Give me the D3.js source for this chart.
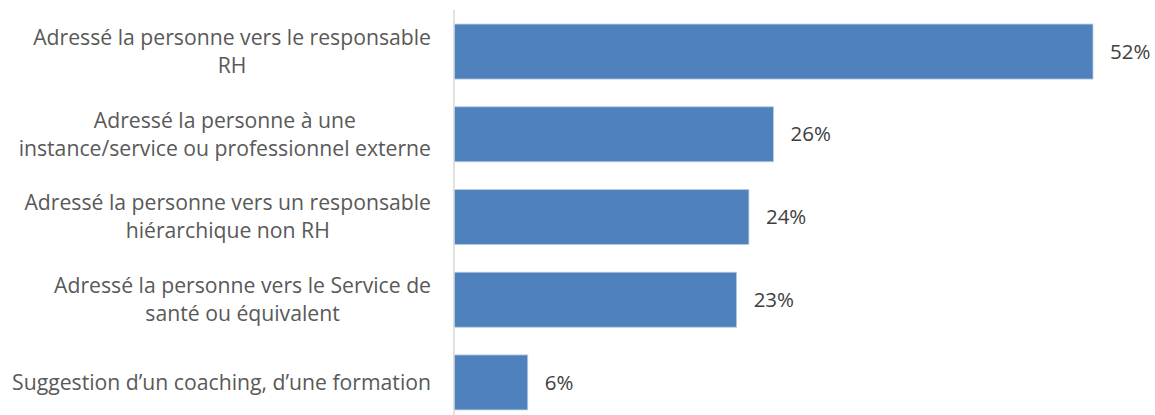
<!DOCTYPE html>
<html>
<head>
<meta charset="utf-8">
<script src="https://cdn.jsdelivr.net/npm/d3@7"></script>
<style>
  body { margin: 0; background: #fff; }
  svg { display: block; font-family: "Open Sans", sans-serif; }
</style>
</head>
<body>
<div id="chart"></div>
<script>
// Chart data
const categories = [
  ['Adressé la personne vers le responsable', 'RH'],
  ['Adressé la personne à une', 'instance/service ou professionnel externe'],
  ['Adressé la personne vers un responsable', 'hiérarchique non RH'],
  ['Adressé la personne vers le Service de', 'santé ou équivalent'],
  ['Suggestion d\u2019un coaching, d\u2019une formation']
];
const values = [52, 26, 24, 23, 6];

const width = 1155;
const height = 415;

const svg = d3
  .select('#chart')
  .append('svg')
  .attr('width', width)
  .attr('height', height);

// Scales
const x = d3.scaleLinear().domain([0, 52]).range([454, 1093]);
const y = d3
  .scaleBand()
  .domain(d3.range(values.length))
  .range([10, 424])
  .paddingInner(0.335)
  .paddingOuter(0.17);

// Bars
svg
  .selectAll('rect.bar')
  .data(values)
  .join('rect')
  .attr('class', 'bar')
  .attr('x', x(0))
  .attr('y', (d, i) => y(i))
  .attr('width', (d) => x(d) - x(0))
  .attr('height', y.bandwidth())
  .style('fill', '#4f81bd')
  .style('stroke', '#b9cde5')
  .style('stroke-width', 0.8);

// Axis line
svg
  .append('line')
  .attr('x1', x(0))
  .attr('x2', x(0))
  .attr('y1', 10)
  .attr('y2', height)
  .style('stroke', '#d9d9d9')
  .style('stroke-width', 1.5);

// Value labels
svg
  .selectAll('text.value')
  .data(values)
  .join('text')
  .attr('class', 'value')
  .attr('x', (d) => x(d) + 17)
  .attr('y', (d, i) => y(i) + y.bandwidth() / 2)
  .attr('dy', '0.35em')
  .style('font-size', '20.5px')
  .style('fill', '#404040')
  .text((d) => d + '%');

// Category labels (multi-line, centered block aligned to the right)
const labelRight = 431;
const lineHeight = 28;
const labels = svg
  .selectAll('text.cat')
  .data(categories)
  .join('text')
  .attr('class', 'cat')
  .attr('text-anchor', 'middle')
  .style('font-size', '21.2px')
  .style('fill', '#595959');

labels.each(function (lines, i) {
  const t = d3.select(this);
  const cy = y(i) + y.bandwidth() / 2;
  const top = cy - ((lines.length - 1) * lineHeight) / 2;
  lines.forEach((line, j) => {
    t.append('tspan').attr('y', top + j * lineHeight).attr('dy', '0.35em').text(line);
  });
  let maxW = 0;
  t.selectAll('tspan').each(function () {
    maxW = Math.max(maxW, this.getComputedTextLength());
  });
  t.selectAll('tspan').attr('x', labelRight - maxW / 2);
});
</script>
</body>
</html>
